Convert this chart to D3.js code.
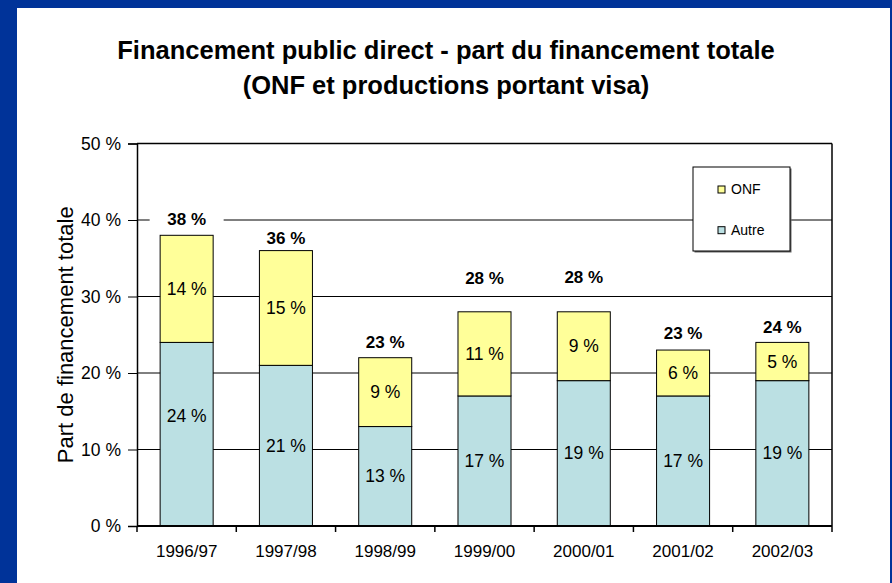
<html>
<head>
<meta charset="utf-8">
<title>Financement public direct</title>
<style>
  body { margin: 0; background: #fff; }
  text { font-family: "Liberation Sans", Arial, sans-serif; }
</style>
</head>
<body>
<script src="https://d3js.org/d3.v7.min.js"></script>
<script>
// données
var years = ["1996/97", "1997/98", "1998/99", "1999/00", "2000/01", "2001/02", "2002/03"];
var autre = [24, 21, 13, 17, 19, 17, 19];
var onf = [14, 15, 9, 11, 9, 6, 5];
var totals = [38, 36, 23, 28, 28, 23, 24];
// hauteur (en %) où se place l'étiquette du total
var totalLabelAt = [40.1, 37.7, 24.1, 32.4, 32.6, 25.2, 26.0];
// étiquette "Autre" déplacée (sinon au milieu du segment)
var autreLabelAt = [14.4, null, null, null, null, null, null];
var yTicks = [0, 10, 20, 30, 40, 50];

var width = 892, height = 583;
var plotLeft = 137, plotRight = 832, plotTop = 143.5, plotBottom = 526;

var svg = d3.select("body").append("svg")
    .attr("width", width)
    .attr("height", height);

// cadre bleu
svg.append("rect").attr("x", 0).attr("y", 0).attr("width", width).attr("height", height).attr("fill", "#003399");
svg.append("rect").attr("x", 17).attr("y", 8).attr("width", 873).attr("height", height - 8).attr("fill", "#fff");

// titre
svg.append("text")
    .attr("x", 446).attr("y", 59)
    .attr("text-anchor", "middle")
    .attr("font-size", 25.5).attr("font-weight", "bold")
    .text("Financement public direct - part du financement totale");
svg.append("text")
    .attr("x", 446).attr("y", 94)
    .attr("text-anchor", "middle")
    .attr("font-size", 25.5).attr("font-weight", "bold")
    .text("(ONF et productions portant visa)");

var x = d3.scaleBand().domain(years).range([plotLeft, plotRight]).paddingInner(0.466).paddingOuter(0.233);
var y = d3.scaleLinear().domain([0, 50]).range([plotBottom, plotTop]);

// grille
svg.append("g")
    .selectAll("line")
    .data(yTicks.filter(d => d > 0 && d < 50))
    .join("line")
    .attr("x1", plotLeft).attr("x2", plotRight)
    .attr("y1", d => y(d)).attr("y2", d => y(d))
    .attr("stroke", "#000").attr("stroke-width", 1);

// axe y
var yAxis = svg.append("g")
    .attr("transform", `translate(${plotLeft},0)`)
    .call(d3.axisLeft(y).tickValues(yTicks).tickSize(9).tickPadding(7).tickFormat(d => d + " %"));
yAxis.select(".domain").attr("stroke-width", 1.5);
yAxis.selectAll("text").attr("font-size", 17.5).attr("fill", "#000")
    .style("font-family", "'Liberation Sans', Arial, sans-serif");

svg.append("text")
    .attr("transform", `translate(73,${(plotTop + plotBottom) / 2}) rotate(-90)`)
    .attr("text-anchor", "middle")
    .attr("font-size", 22)
    .text("Part de financement totale");

// bord droit et haut
svg.append("line").attr("x1", plotRight).attr("x2", plotRight).attr("y1", plotTop).attr("y2", plotBottom).attr("stroke", "#000").attr("stroke-width", 1.5);
svg.append("line").attr("x1", plotLeft).attr("x2", plotRight).attr("y1", plotTop).attr("y2", plotTop).attr("stroke", "#000").attr("stroke-width", 1.5);

// barres
var idx = d3.range(years.length);
var bars = svg.append("g");
bars.selectAll("rect.autre")
    .data(idx)
    .join("rect")
    .attr("class", "autre")
    .attr("x", i => x(years[i]))
    .attr("width", x.bandwidth())
    .attr("y", i => y(autre[i]))
    .attr("height", i => y(0) - y(autre[i]))
    .attr("fill", "#BBE0E3").attr("stroke", "#000").attr("stroke-width", 1);
bars.selectAll("rect.onf")
    .data(idx)
    .join("rect")
    .attr("class", "onf")
    .attr("x", i => x(years[i]))
    .attr("width", x.bandwidth())
    .attr("y", i => y(autre[i] + onf[i]))
    .attr("height", i => y(autre[i]) - y(autre[i] + onf[i]))
    .attr("fill", "#FFFF99").attr("stroke", "#000").attr("stroke-width", 1);

// étiquettes internes
var cx = i => x(years[i]) + x.bandwidth() / 2;
svg.append("g").selectAll("text")
    .data(idx)
    .join("text")
    .attr("x", cx)
    .attr("y", i => autreLabelAt[i] != null ? y(autreLabelAt[i]) : (y(0) + y(autre[i])) / 2)
    .attr("dy", "0.35em")
    .attr("text-anchor", "middle")
    .attr("font-size", 17.5)
    .text(i => autre[i] + " %");
svg.append("g").selectAll("text")
    .data(idx)
    .join("text")
    .attr("x", cx)
    .attr("y", i => (y(autre[i]) + y(autre[i] + onf[i])) / 2)
    .attr("dy", "0.35em")
    .attr("text-anchor", "middle")
    .attr("font-size", 17.5)
    .text(i => onf[i] + " %");

// totaux
var tot = svg.append("g").selectAll("g")
    .data(idx)
    .join("g")
    .attr("transform", i => `translate(${cx(i)},${y(totalLabelAt[i])})`);
tot.append("rect")
    .attr("x", -37).attr("y", -11).attr("width", 74).attr("height", 22)
    .attr("fill", "#fff");
tot.append("text")
    .attr("dy", "0.35em")
    .attr("text-anchor", "middle")
    .attr("font-size", 17).attr("font-weight", "bold")
    .text(i => totals[i] + " %");

// axe x
var xAxis = svg.append("g")
    .attr("transform", `translate(0,${plotBottom})`)
    .call(d3.axisBottom(x).tickSize(0).tickPadding(19));
xAxis.select(".domain").remove();
xAxis.selectAll("text").attr("font-size", 17).attr("fill", "#000")
    .style("font-family", "'Liberation Sans', Arial, sans-serif");
svg.append("line").attr("x1", plotLeft).attr("x2", plotRight).attr("y1", plotBottom).attr("y2", plotBottom).attr("stroke", "#000").attr("stroke-width", 2);
var step = x.step();
svg.append("g").selectAll("line")
    .data(d3.range(years.length + 1))
    .join("line")
    .attr("x1", i => plotLeft + i * step).attr("x2", i => plotLeft + i * step)
    .attr("y1", plotBottom).attr("y2", plotBottom + 6)
    .attr("stroke", "#000").attr("stroke-width", 1.5);

// légende
var lg = svg.append("g").attr("transform", "translate(693,167)");
lg.append("rect").attr("x", 1.5).attr("y", 1.5).attr("width", 97).attr("height", 84).attr("fill", "#666");
lg.append("rect").attr("width", 97).attr("height", 84).attr("fill", "#fff").attr("stroke", "#000").attr("stroke-width", 1);
var legendItems = [{ name: "ONF", color: "#FFFF99" }, { name: "Autre", color: "#BBE0E3" }];
var li = lg.selectAll("g.item")
    .data(legendItems)
    .join("g")
    .attr("class", "item")
    .attr("transform", (d, i) => `translate(25,${19 + i * 40.7})`);
li.append("rect").attr("width", 7).attr("height", 7).attr("fill", d => d.color).attr("stroke", "#000").attr("stroke-width", 1);
li.append("text").attr("x", 13).attr("y", 3.5).attr("dy", "0.35em").attr("font-size", 14).text(d => d.name);
</script>
</body>
</html>
